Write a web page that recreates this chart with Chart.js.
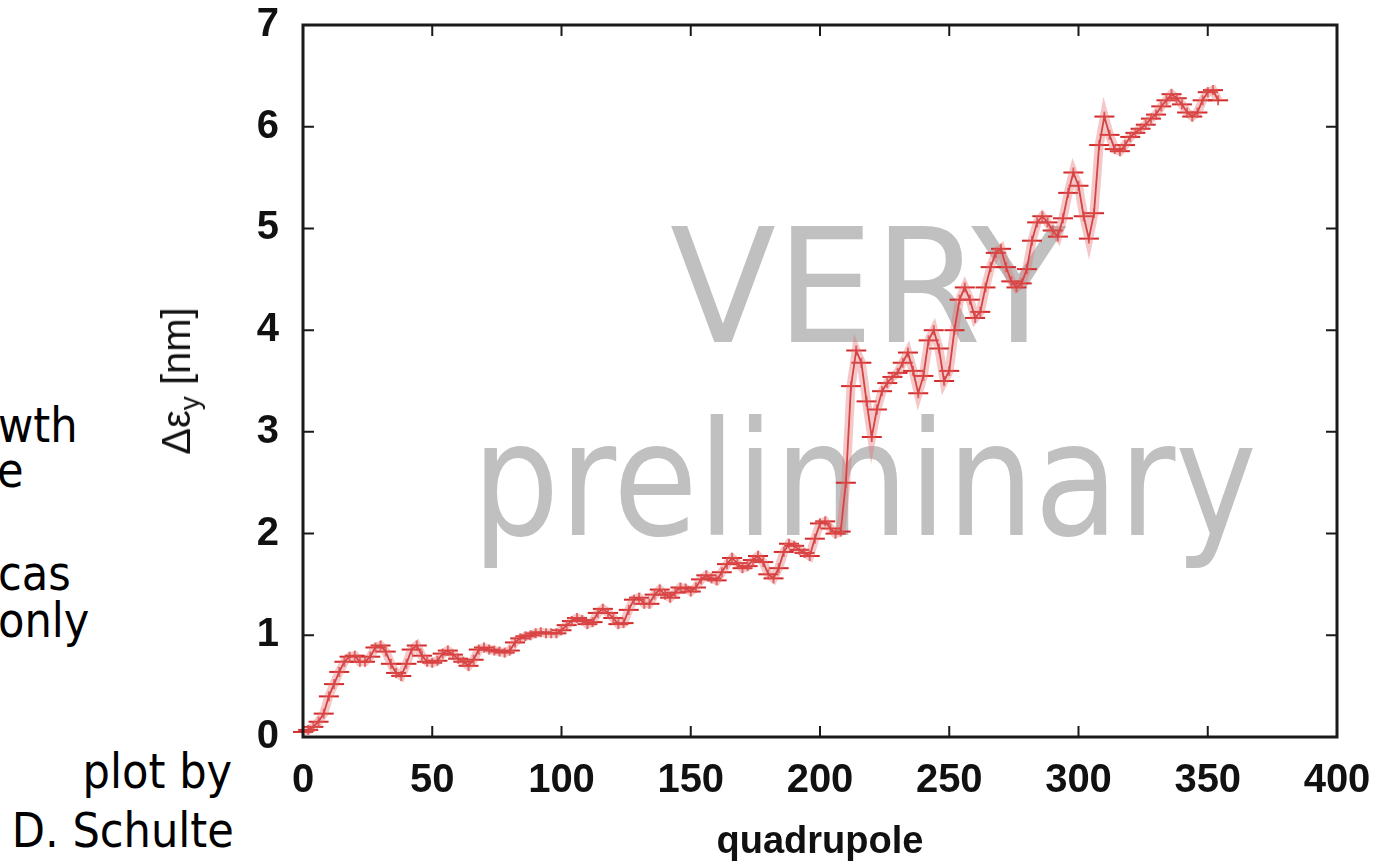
<!DOCTYPE html>
<html>
<head>
<meta charset="utf-8">
<script src="https://cdn.jsdelivr.net/npm/chart.js@4.4.1/dist/chart.umd.min.js"></script>
<style>
  body { margin: 0; background: #fff; }
  #wrap { position: relative; width: 1387px; height: 865px; overflow: hidden; }
  .wm { position: absolute; color: #c0c0c0; font-family: 'DejaVu Sans', sans-serif; font-size: 158px; line-height: 1; white-space: nowrap; transform-origin: left top; z-index: 0; }
  .side { position: absolute; color: #000; font-family: 'DejaVu Sans', sans-serif; font-size: 48px; line-height: 1; white-space: nowrap; transform: scaleX(0.9); transform-origin: left top; }
  .side.r { text-align: right; transform-origin: right top; }
  #ytitle { position: absolute; left: 180px; top: 381px; transform: translate(-50%, -50%) rotate(-90deg); font-family: 'Liberation Sans', Arial, sans-serif; font-size: 40px; color: #111; white-space: nowrap; z-index: 2; }
  #ytitle sub { font-size: 28px; vertical-align: -9px; }
  canvas { position: absolute; left: 0; top: 0; z-index: 1; }
</style>
</head>
<body>
<div id="wrap">
  <div class="wm" style="left:670px; top:208px; transform: scaleX(0.98);">VERY</div>
  <div class="wm" style="left:472px; top:401px; transform: scaleX(0.872);">preliminary</div>

  <div class="side" style="left:-2px; top:401px;">wth</div>
  <div class="side" style="left:-3px; top:446px;">e</div>
  <div class="side" style="left:-2px; top:549px;">cas</div>
  <div class="side" style="left:-2px; top:596px;">only</div>
  <div class="side r" style="right:1155px; top:747px;">plot by</div>
  <div class="side r" style="right:1153px; top:806px;">D. Schulte</div>

  <div id="ytitle">Δε<sub>y</sub> [nm]</div>

  <canvas id="grafico" width="1387" height="865"></canvas>
</div>

<script>
// quadrupole index (eixo x)
var quadrupole = [
  0, 2, 4, 6, 8, 10, 12, 14, 16, 18, 20, 22, 24, 26, 28, 30, 32, 34, 36, 38,
  40, 42, 44, 46, 48, 50, 52, 54, 56, 58, 60, 62, 64, 66, 68, 70, 72, 74, 76, 78,
  80, 82, 84, 86, 88, 90, 92, 94, 96, 98, 100, 102, 104, 106, 108, 110, 112, 114, 116, 118,
  120, 122, 124, 126, 128, 130, 132, 134, 136, 138, 140, 142, 144, 146, 148, 150, 152, 154, 156, 158,
  160, 162, 164, 166, 168, 170, 172, 174, 176, 178, 180, 182, 184, 186, 188, 190, 192, 194, 196, 198,
  200, 202, 204, 206, 208, 210, 212, 214, 216, 218, 220, 222, 224, 226, 228, 230, 232, 234, 236, 238,
  240, 242, 244, 246, 248, 250, 252, 254, 256, 258, 260, 262, 264, 266, 268, 270, 272, 274, 276, 278,
  280, 282, 284, 286, 288, 290, 292, 294, 296, 298, 300, 302, 304, 306, 308, 310, 312, 314, 316, 318,
  320, 322, 324, 326, 328, 330, 332, 334, 336, 338, 340, 342, 344, 346, 348, 350, 352, 354
];

// emittance growth [nm]
var deltaEpsY = [
  0.05, 0.07, 0.10, 0.15, 0.23, 0.40, 0.52, 0.64, 0.74, 0.79, 0.80, 0.74, 0.74, 0.79, 0.88, 0.90, 0.84, 0.72, 0.63, 0.60,
  0.72, 0.86, 0.90, 0.80, 0.74, 0.73, 0.75, 0.82, 0.85, 0.81, 0.77, 0.74, 0.70, 0.76, 0.86, 0.88, 0.86, 0.85, 0.84, 0.83,
  0.85, 0.93, 0.97, 0.99, 1.00, 1.02, 1.03, 1.02, 1.02, 1.02, 1.05, 1.10, 1.14, 1.17, 1.15, 1.11, 1.13, 1.22, 1.26, 1.22,
  1.17, 1.11, 1.12, 1.25, 1.35, 1.37, 1.31, 1.31, 1.40, 1.45, 1.40, 1.37, 1.42, 1.47, 1.46, 1.43, 1.47, 1.55, 1.59, 1.56,
  1.54, 1.62, 1.70, 1.76, 1.71, 1.66, 1.68, 1.74, 1.78, 1.72, 1.60, 1.56, 1.66, 1.82, 1.90, 1.88, 1.84, 1.81, 1.78, 1.95,
  2.10, 2.12, 2.05, 2.00, 2.02, 2.50, 3.45, 3.80, 3.68, 3.30, 2.95, 3.22, 3.40, 3.48, 3.54, 3.58, 3.68, 3.78, 3.60, 3.38,
  3.55, 3.90, 4.00, 3.82, 3.50, 3.60, 4.00, 4.30, 4.42, 4.30, 4.12, 4.18, 4.42, 4.62, 4.76, 4.80, 4.62, 4.48, 4.42, 4.46,
  4.60, 4.88, 5.06, 5.12, 5.06, 4.98, 4.92, 5.10, 5.35, 5.55, 5.42, 5.12, 4.90, 5.15, 5.82, 6.10, 5.92, 5.78, 5.76, 5.82,
  5.90, 5.94, 5.98, 6.02, 6.08, 6.12, 6.20, 6.26, 6.32, 6.28, 6.22, 6.14, 6.10, 6.14, 6.26, 6.34, 6.36, 6.26
];

// eixos
var xTicks = [0, 50, 100, 150, 200, 250, 300, 350, 400];
var yTicks = [0, 1, 2, 3, 4, 5, 6, 7];

var pontos = quadrupole.map(function (q, i) { return { x: q, y: deltaEpsY[i] }; });

// marcador "+" mais largo que alto, como no gnuplot
var cruz = document.createElement('canvas');
cruz.width = 22;
cruz.height = 12;
var cc = cruz.getContext('2d');
cc.strokeStyle = '#d42a2a';
cc.lineWidth = 2;
cc.beginPath(); cc.moveTo(1, 6); cc.lineTo(21, 6); cc.stroke();
cc.lineWidth = 1.5;
cc.beginPath(); cc.moveTo(11, 1); cc.lineTo(11, 11); cc.stroke();

// moldura e ticks para dentro (espelhados em cima e na direita)
var moldura = {
  id: 'moldura',
  afterDraw: function (chart) {
    var ctx = chart.ctx;
    var a = chart.chartArea;
    var sx = chart.scales.x, sy = chart.scales.y;
    ctx.save();
    ctx.strokeStyle = '#1a1a1a';
    ctx.lineWidth = 2;
    ctx.beginPath();
    xTicks.forEach(function (t) {
      var px = sx.getPixelForValue(t);
      ctx.moveTo(px, a.bottom); ctx.lineTo(px, a.bottom - 11);
      ctx.moveTo(px, a.top); ctx.lineTo(px, a.top + 11);
    });
    yTicks.forEach(function (t) {
      var py = sy.getPixelForValue(t);
      ctx.moveTo(a.left, py); ctx.lineTo(a.left + 11, py);
      ctx.moveTo(a.right, py); ctx.lineTo(a.right - 11, py);
    });
    ctx.stroke();
    ctx.lineWidth = 3;
    ctx.strokeRect(a.left, a.top, a.right - a.left, a.bottom - a.top);
    ctx.restore();
  }
};

var ctx = document.getElementById('grafico').getContext('2d');
var chart = new Chart(ctx, {
  type: 'line',
  data: {
    datasets: [
      {
        label: 'halo',
        data: pontos,
        borderColor: 'rgba(226, 110, 110, 0.38)',
        borderWidth: 9,
        pointRadius: 0,
        tension: 0
      },
      {
        label: 'Δεy',
        data: pontos,
        borderColor: '#cc2a2a',
        borderWidth: 1.8,
        pointStyle: cruz,
        pointRadius: 6,
        tension: 0,
        clip: false
      }
    ]
  },
  options: {
    responsive: false,
    animation: false,
    devicePixelRatio: 1,
    layout: { padding: { left: 0, top: 25, right: 50, bottom: 0 } },
    plugins: {
      legend: { display: false },
      tooltip: { enabled: false }
    },
    scales: {
      x: {
        type: 'linear',
        min: 0,
        max: 400,
        grid: { display: false, drawTicks: false },
        border: { display: false },
        ticks: {
          stepSize: 50,
          padding: 20,
          color: '#111',
          font: { family: 'Liberation Sans', size: 40, weight: 'bold' }
        },
        title: {
          display: true,
          text: 'quadrupole',
          color: '#111',
          padding: { top: 0, bottom: 0 },
          font: { family: 'Liberation Sans', size: 38, weight: 'bold' }
        },
        afterFit: function (scale) {
          scale.height = 128;
          scale.paddingLeft = 0;
          scale.paddingRight = 0;
        }
      },
      y: {
        min: 0,
        max: 7,
        grid: { display: false, drawTicks: false },
        border: { display: false },
        ticks: {
          stepSize: 1,
          padding: 24,
          color: '#111',
          font: { family: 'Liberation Sans', size: 40, weight: 'bold' }
        },
        afterFit: function (scale) {
          scale.width = 303;
          scale.paddingTop = 0;
          scale.paddingBottom = 0;
        }
      }
    }
  },
  plugins: [moldura]
});
</script>
</body>
</html>
